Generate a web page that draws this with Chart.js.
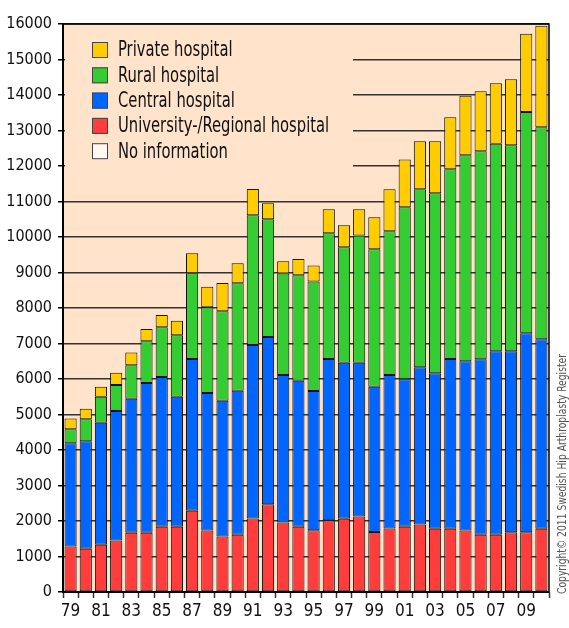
<!DOCTYPE html>
<html>
<head>
<meta charset="utf-8">
<script src="https://cdn.jsdelivr.net/npm/chart.js@4.4.0/dist/chart.umd.min.js"></script>
<style>
  html, body { margin: 0; padding: 0; background: #fff; }
  #wrap { width: 569px; height: 628px; position: relative; }
</style>
</head>
<body>
<div id="wrap"><canvas id="chart"></canvas></div>
<script>
// years 1979-2010, labelled with two digits
const years = ["79","80","81","82","83","84","85","86","87","88","89","90","91","92","93","94",
               "95","96","97","98","99","00","01","02","03","04","05","06","07","08","09","10"];

const university = [1280,1220,1330,1450,1670,1670,1840,1840,2290,1730,1560,1610,2070,2470,1960,1840,
                    1740,2020,2060,2130,1690,1790,1840,1900,1780,1780,1730,1610,1610,1680,1680,1780];
const central = [2910,3030,3435,3650,3775,4215,4215,3660,4275,3875,3830,4060,4890,4710,4150,4110,
                 3925,4540,4395,4325,4095,4320,4155,4430,4385,4780,4770,4945,5170,5100,5610,5340];
const rural = [395,615,735,730,940,1175,1400,1730,2415,2415,2520,3025,3655,3320,2865,2970,
               3085,3545,3255,3590,3870,4050,4840,5015,5065,5345,5800,5860,5850,5805,6230,5970];
const privateHosp = [300,300,280,345,365,345,345,410,565,580,795,565,735,450,345,460,
                     450,675,620,735,900,1185,1350,1350,1465,1465,1680,1690,1700,1860,2205,2860];
const noInfo = years.map(() => 0);

const FONT = "'Liberation Sans Narrow', 'DejaVu Sans Condensed', 'Arial Narrow', sans-serif";
const PEACH = "#FFE3CA";

// peach panel, legend block (hides the grid behind it), frame and copyright
const decor = {
  id: "decor",
  beforeDraw(chart) {
    const { ctx, chartArea: a } = chart;
    ctx.save();
    ctx.fillStyle = PEACH;
    ctx.fillRect(a.left, a.top, a.right - a.left, a.bottom - a.top);
    ctx.restore();
  },
  beforeDatasetsDraw(chart) {
    const { ctx, chartArea: a } = chart;
    ctx.save();
    ctx.fillStyle = PEACH;
    ctx.fillRect(a.left + 2, a.top + 2, 288, 160);

    const order = [3, 2, 1, 0, 4];
    ctx.font = "20.5px " + FONT;
    ctx.textBaseline = "middle";
    order.forEach((di, i) => {
      const ds = chart.data.datasets[di];
      const y = 50 + i * 25.3;
      ctx.fillStyle = ds.backgroundColor;
      ctx.fillRect(92, y - 8, 16, 16);
      ctx.strokeStyle = "#444";
      ctx.lineWidth = 1;
      ctx.strokeRect(92.5, y - 7.5, 15, 15);
      ctx.fillStyle = "#111";
      // squeeze the text to the narrow face of the original
      const w = ctx.measureText(ds.label).width;
      ctx.fillText(ds.label, 118, y + 1, w * 0.8);
    });
    ctx.restore();
  },
  afterDraw(chart) {
    const { ctx, chartArea: a } = chart;
    ctx.save();
    ctx.strokeStyle = "#000";
    ctx.lineWidth = 2;
    ctx.beginPath();
    ctx.moveTo(a.left, a.top);
    ctx.lineTo(a.left, a.bottom);
    ctx.lineTo(a.right, a.bottom);
    ctx.stroke();
    ctx.lineWidth = 1.5;
    ctx.beginPath();
    ctx.moveTo(a.left, a.top);
    ctx.lineTo(a.right, a.top);
    ctx.lineTo(a.right, a.bottom);
    ctx.stroke();

    ctx.translate(563, 594);
    ctx.rotate(-Math.PI / 2);
    ctx.font = "12px " + FONT;
    ctx.fillStyle = "#555";
    ctx.textAlign = "left";
    ctx.textBaseline = "middle";
    ctx.fillText("Copyright\u00A9 2011 Swedish Hip Arthroplasty Register", 0, 0, 240);
    ctx.restore();
  }
};

function bar(label, data, color, hidden) {
  return {
    label: label,
    data: data,
    backgroundColor: color,
    borderColor: "#111",
    borderWidth: 1,
    borderSkipped: false,
    barPercentage: 0.8,
    categoryPercentage: 1.0,
    hidden: !!hidden
  };
}

new Chart(document.getElementById("chart"), {
  type: "bar",
  data: {
    labels: years,
    datasets: [
      bar("University-/Regional hospital", university, "#FF3D3D"),
      bar("Central hospital", central, "#0066FF"),
      bar("Rural hospital", rural, "#33CC33"),
      bar("Private hospital", privateHosp, "#FFCC00"),
      bar("No information", noInfo, "#FFF8F0", true)
    ]
  },
  options: {
    responsive: true,
    maintainAspectRatio: false,
    animation: false,
    layout: { padding: { top: 24, right: 20, left: 0, bottom: 0 } },
    plugins: {
      legend: { display: false },
      tooltip: { enabled: false }
    },
    scales: {
      x: {
        stacked: true,
        afterFit: (s) => { s.height = 36; },
        grid: {
          offset: true,
          drawOnChartArea: false,
          drawTicks: true,
          tickLength: 6,
          tickColor: "#333",
          tickWidth: 1.5
        },
        border: { display: false },
        ticks: {
          autoSkip: false,
          maxRotation: 0,
          padding: 3,
          color: "#111",
          font: { family: FONT, size: 17 },
          callback: function (v, i) { return i % 2 === 0 ? years[i] : ""; }
        }
      },
      y: {
        stacked: true,
        min: 0,
        max: 16000,
        afterFit: (s) => { s.width = 63; },
        grid: {
          color: "#333",
          lineWidth: 1.5,
          drawTicks: true,
          tickLength: 5,
          tickColor: "#000"
        },
        border: { display: false },
        ticks: {
          stepSize: 1000,
          padding: 6,
          color: "#111",
          font: { family: FONT, size: 16 },
          callback: (v) => String(v)
        }
      }
    }
  },
  plugins: [decor]
});
</script>
</body>
</html>
